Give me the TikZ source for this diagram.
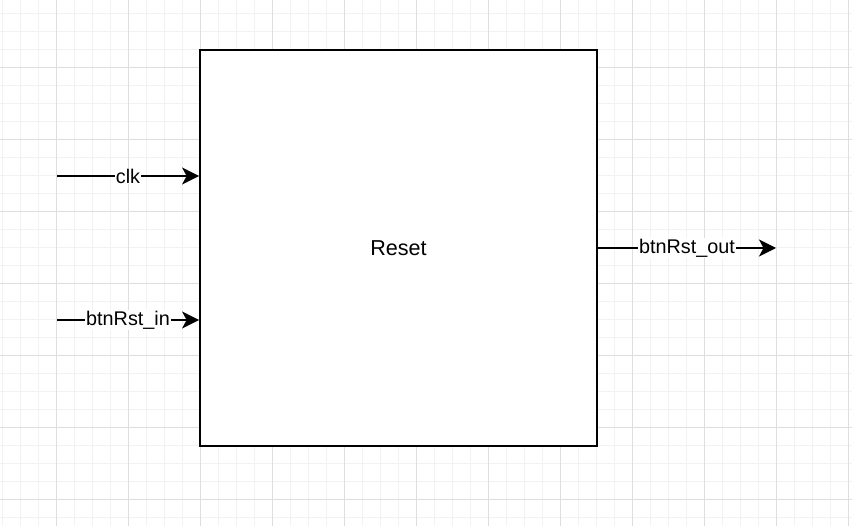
\documentclass[tikz,border=0pt]{standalone}
\usepackage{fontspec}
\setmainfont{Liberation Sans}
\usetikzlibrary{arrows.meta}
\usetikzlibrary{positioning}
\usetikzlibrary{calc}

\begin{document}
\begin{tikzpicture}[x=1pt,y=-1pt,>={Stealth[length=17pt,width=17pt,inset=4.5pt]}]
		\tikzset{block/.style = {shape=rectangle, draw, line width=1.8pt, minimum width=397pt, minimum height=396pt, font=\fontsize{21.6}{26}\selectfont},
			sig/.style = {->, line width=1.8pt},
			siglabel/.style = {fill=white, inner sep=1pt, font=\fontsize{19.8}{24}\selectfont},
			minorline/.style = {draw=black!5, line width=1pt},
			majorline/.style = {draw=black!13, line width=1pt}}
		\useasboundingbox (0,0) rectangle (852,526);
		% grid
		\foreach \x in {2,20,...,850} \draw[minorline] (\x,0) -- (\x,526);
		\foreach \y in {14,32,...,524} \draw[minorline] (0,\y) -- (852,\y);
		\foreach \x in {56,128,...,850} \draw[majorline] (\x,0) -- (\x,526);
		\foreach \y in {68,140,...,524} \draw[majorline] (0,\y) -- (852,\y);
		
		\node[block, fill=white] (RESET) at (398.5,248) {Reset};
		
		\coordinate (CLK) at (57,176);
		\coordinate (BTNIN) at (57,320);
		\coordinate (BTNOUT) at (776,248);
		
		\draw[sig] (CLK) -- (RESET.west |- CLK) node[siglabel, midway] {clk};
		\draw[sig] (BTNIN) -- (RESET.west |- BTNIN) node[siglabel, midway] {btnRst\_in};
		\draw[sig] (RESET.east |- BTNOUT) -- (BTNOUT) node[siglabel, midway] {btnRst\_out};
		
\end{tikzpicture}
\end{document}
